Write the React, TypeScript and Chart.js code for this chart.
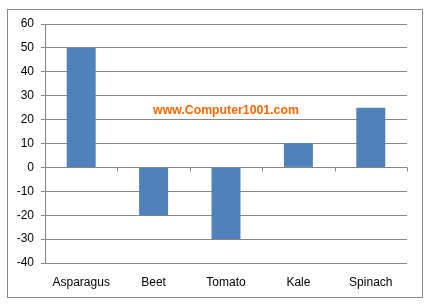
import React, { useEffect, useRef } from "react";
import { Chart, registerables } from "chart.js";

Chart.register(...registerables);

const categories = ["Asparagus", "Beet", "Tomato", "Kale", "Spinach"];
const values = [50, -20, -30, 10, 25];
const yMin = -40;
const yMax = 60;
const yStep = 10;
const watermark = "www.Computer1001.com";

const GRID = "#868686";
const BAR = "#4F81BD";
const FONT = "'Liberation Sans', Arial, sans-serif";

const decorPlugin = {
  id: "decor",
  beforeDraw(chart: any) {
    const ctx = chart.ctx;
    ctx.save();
    ctx.fillStyle = "#ffffff";
    ctx.fillRect(0, 0, chart.width, chart.height);
    ctx.strokeStyle = "#898989";
    ctx.lineWidth = 1;
    ctx.strokeRect(7.5, 9.5, 415, 288);
    ctx.restore();
  },
  afterDatasetsDraw(chart: any) {
    const ctx = chart.ctx;
    const xs = chart.scales.x;
    const ys = chart.scales.y;
    const area = chart.chartArea;
    const y0 = Math.round(ys.getPixelForValue(0)) + 0.5;
    ctx.save();
    ctx.strokeStyle = GRID;
    ctx.lineWidth = 1;
    ctx.beginPath();
    ctx.moveTo(area.left, y0);
    ctx.lineTo(area.right, y0);
    const bounds: number[] = [area.left];
    for (let i = 0; i < categories.length - 1; i++) {
      bounds.push((xs.getPixelForValue(i) + xs.getPixelForValue(i + 1)) / 2);
    }
    bounds.push(area.right);
    bounds.forEach((b) => {
      const bx = Math.round(b) + 0.5;
      ctx.moveTo(bx, y0);
      ctx.lineTo(bx, y0 + 4);
    });
    ctx.stroke();
    // watermark
    ctx.fillStyle = "#FF6600";
    ctx.font = `bold 12.3px ${FONT}`;
    ctx.textAlign = "center";
    ctx.textBaseline = "alphabetic";
    const cx = (area.left + area.right) / 2;
    ctx.fillText(watermark, cx, ys.getPixelForValue(25) + 6);
    ctx.restore();
  },
};

export default function App() {
  const ref = useRef<HTMLCanvasElement | null>(null);
  useEffect(() => {
    if (!ref.current) return;
    const chart = new Chart(ref.current, {
      type: "bar",
      data: {
        labels: categories,
        datasets: [
          {
            data: values,
            backgroundColor: BAR,
            borderWidth: 0,
            categoryPercentage: 0.4,
            barPercentage: 1,
          },
        ],
      },
      options: {
        responsive: false,
        animation: false,
        devicePixelRatio: 1,
        layout: { padding: { top: 24, right: 24, left: 0, bottom: 0 } },
        plugins: {
          legend: { display: false },
          tooltip: { enabled: false },
          title: { display: false },
        },
        scales: {
          x: {
            grid: { display: false, drawTicks: false },
            border: { display: false },
            ticks: {
              color: "#000000",
              font: { family: FONT, size: 12 },
              padding: 12,
              maxRotation: 0,
            },
            afterFit(scale: any) {
              scale.height = 44;
            },
          },
          y: {
            min: yMin,
            max: yMax,
            grid: { color: GRID, tickLength: 4, lineWidth: 1 },
            border: { display: true, color: GRID },
            ticks: {
              stepSize: yStep,
              color: "#000000",
              font: { family: FONT, size: 12 },
              padding: 7,
            },
            afterFit(scale: any) {
              scale.width = 45;
            },
          },
        },
      },
      plugins: [decorPlugin],
    });
    return () => chart.destroy();
  }, []);
  return (
    <div style={{ position: "absolute", left: 0, top: 0, width: 431, height: 307 }}>
      <canvas ref={ref} width={431} height={307} style={{ width: 431, height: 307 }} />
    </div>
  );
}
